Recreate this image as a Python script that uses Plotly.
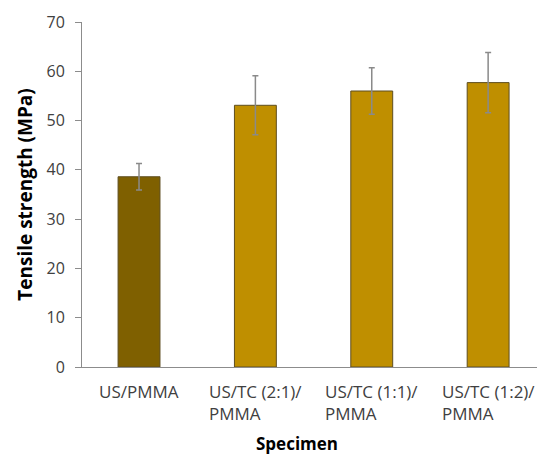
import plotly.graph_objects as go

# Tensile strength of each specimen (MPa) with standard deviation
specimens = ["US/PMMA", "US/TC (2:1)/PMMA", "US/TC (1:1)/PMMA", "US/TC (1:2)/PMMA"]
tick_labels = ["US/PMMA", "US/TC (2:1)/<br>PMMA", "US/TC (1:1)/<br>PMMA", "US/TC (1:2)/<br>PMMA"]
strength = [38.6, 53.1, 56.0, 57.7]
std_dev = [2.7, 6.0, 4.7, 6.1]
bar_colors = ["#7F6000", "#BF8F00", "#BF8F00", "#BF8F00"]

font_family = "Open Sans, DejaVu Sans, sans-serif"
axis_gray = "#8C8C8C"
text_color = "#404040"

fig = go.Figure()
fig.add_trace(go.Bar(
    x=specimens,
    y=strength,
    marker=dict(color=bar_colors, line=dict(color="#5E4E20", width=1)),
    error_y=dict(type="data", array=std_dev, visible=True,
                 color="#8A8A8A", thickness=1.5, width=3),
    width=0.36,
))

# category labels: first line centered, second line left-aligned
for cat, lab in zip(specimens, tick_labels):
    fig.add_annotation(x=cat, xref="x", y=-0.033, yref="paper",
                       text=lab, showarrow=False, align="left",
                       xanchor="center", yanchor="top",
                       font=dict(family=font_family, size=17, color=text_color))

fig.add_annotation(x=0.4725, xref="paper", y=-0.262, yref="paper",
                   text="<b>Specimen</b>", showarrow=False,
                   xanchor="center", yanchor="bottom",
                   font=dict(family=font_family, size=17, color="#000000"))

fig.update_layout(
    width=537, height=457,
    margin=dict(l=82, r=0, t=22, b=90),
    paper_bgcolor="white", plot_bgcolor="white",
    showlegend=False,
    font=dict(family=font_family, size=16, color=text_color),
    xaxis=dict(range=[-0.49, 3.42], showticklabels=False, ticks="",
               showline=True, linecolor=axis_gray, linewidth=1,
               showgrid=False, zeroline=False, fixedrange=True),
    yaxis=dict(range=[0, 70], dtick=10, ticks="outside", ticklen=6,
               tickcolor=axis_gray, showline=True, linecolor=axis_gray,
               linewidth=1, showgrid=False, zeroline=False,
               ticklabelstandoff=7,
               tickfont=dict(family=font_family, size=16, color=text_color),
               title=dict(text="<b>Tensile strength (MPa)</b>",
                          font=dict(family=font_family, size=19, color="#000000"),
                          standoff=8)),
)

fig.write_html("out.html")
